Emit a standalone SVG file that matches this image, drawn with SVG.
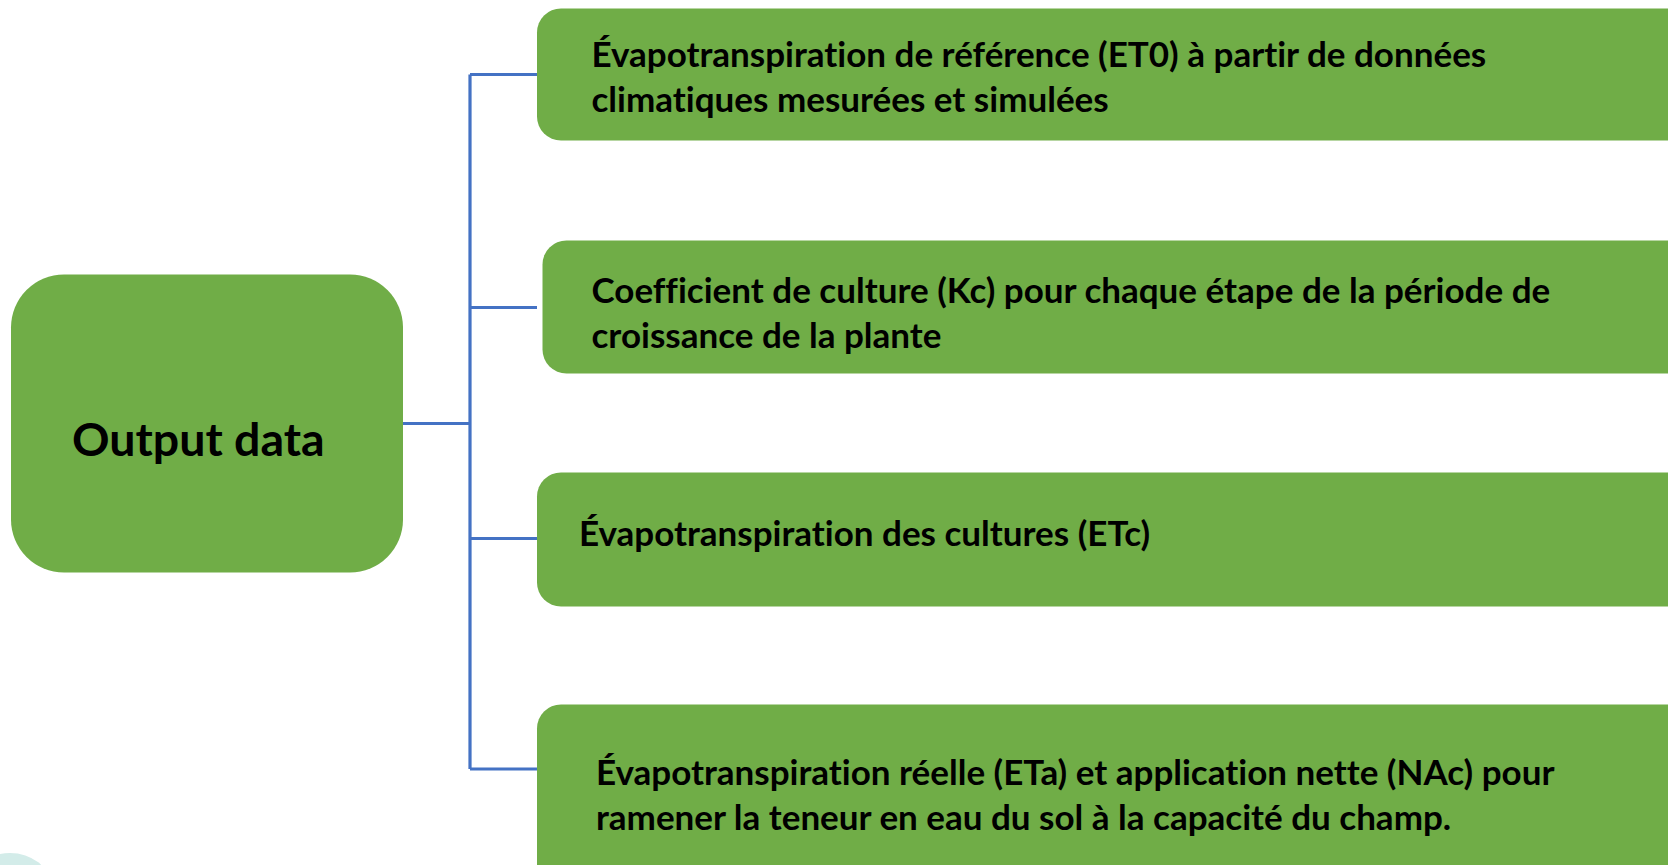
<svg xmlns="http://www.w3.org/2000/svg" width="1668" height="865" viewBox="0 0 1668 865">
<style>
.box{fill:#70AD47;}
.lbl{font-family:Lato,"Liberation Sans",sans-serif;font-weight:bold;fill:#000;font-size:35px;font-variant-ligatures:none;}
.big{font-size:46.5px;}
.con{stroke:#4472C4;stroke-width:3.2;fill:none;}
</style>
<rect width="1668" height="865" fill="#fff"/>
<ellipse cx="10" cy="885" rx="40" ry="32" fill="#d3ece9"/>
<g id="connectors">
<path class="con" d="M403 423.5H470M470 74.5V769M470 74.5H537M470 307.5H537M470 538.5H537M470 769H537"/>
</g>
<g id="node-output">
<rect class="box" x="11" y="274.5" width="392" height="298" rx="53"/>
<text class="lbl big" x="72" y="456">Output data</text>
</g>
<g id="node-et0">
<rect class="box" x="537" y="8.5" width="1160" height="132" rx="24"/>
<text class="lbl" x="591.5" y="67">Évapotranspiration de référence (ET0) à partir de données</text>
<text class="lbl" x="591.5" y="111.5">climatiques mesurées et simulées</text>
</g>
<g id="node-kc">
<rect class="box" x="542.5" y="240.5" width="1160" height="133" rx="24"/>
<text class="lbl" x="591.5" y="303">Coefficient de culture (Kc) pour chaque étape de la période de</text>
<text class="lbl" x="591.5" y="348">croissance de la plante</text>
</g>
<g id="node-etc">
<rect class="box" x="537" y="472.5" width="1160" height="134" rx="24"/>
<text class="lbl" x="579" y="546">Évapotranspiration des cultures (ETc)</text>
</g>
<g id="node-eta">
<rect class="box" x="537" y="704.5" width="1160" height="200" rx="24"/>
<text class="lbl" x="596" y="785">Évapotranspiration réelle (ETa) et application nette (NAc) pour</text>
<text class="lbl" x="596" y="830">ramener la teneur en eau du sol à la capacité du champ.</text>
</g>
</svg>
